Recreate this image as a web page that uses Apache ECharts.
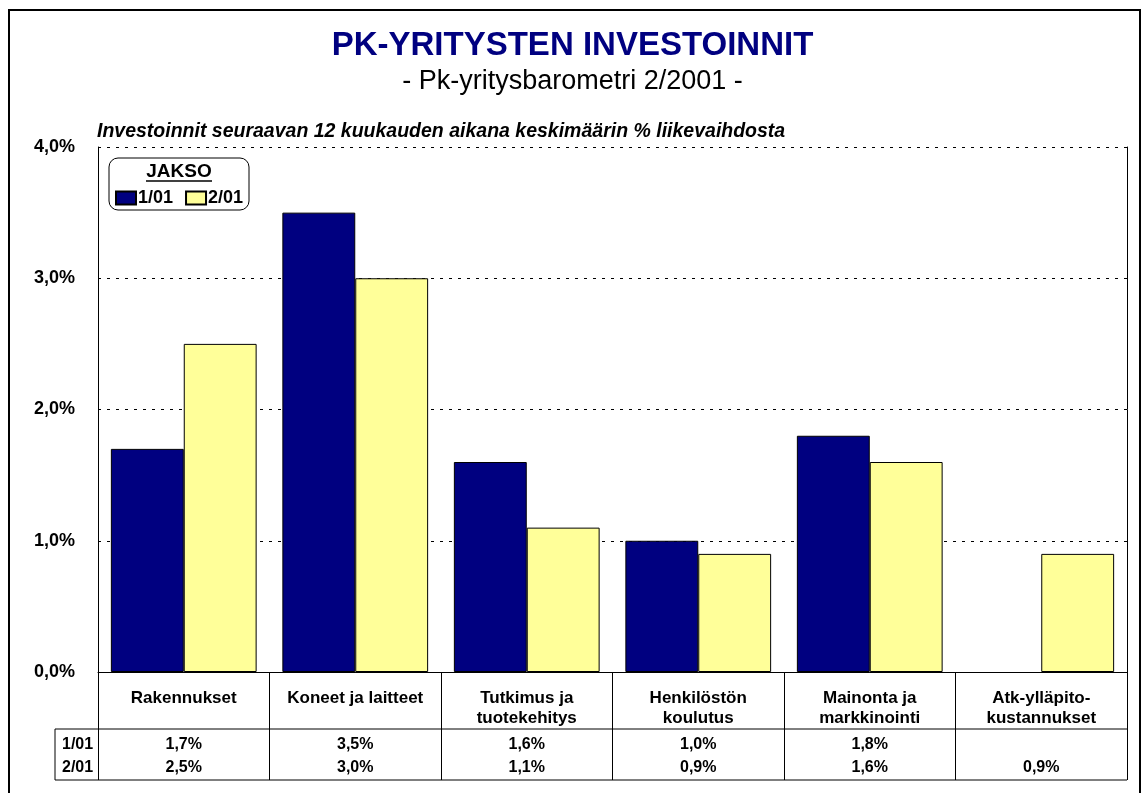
<!DOCTYPE html>
<html>
<head>
  <meta charset="utf-8" />
  <title>PK-yritysten investoinnit</title>
  <style>
    html, body { margin: 0; padding: 0; background: #fff; }
  </style>
  <script src="https://cdn.jsdelivr.net/npm/echarts@6/dist/echarts.min.js"></script>
</head>
<body>
  <div id="main" style="width:1145px;height:793px;"></div>
  <script type="text/javascript">
    // kategoriat ja sarjat
    var categories = ['Rakennukset', 'Koneet ja laitteet', 'Tutkimus ja\ntuotekehitys',
      'Henkilöstön\nkoulutus', 'Mainonta ja\nmarkkinointi', 'Atk-ylläpito-\nkustannukset'];
    var seriesNames = ['1/01', '2/01'];
    var jakso1 = [1.7, 3.5, 1.6, 1.0, 1.8, null];
    var jakso2 = [2.5, 3.0, 1.1, 0.9, 1.6, 0.9];

    var font = '"Liberation Sans", Arial, sans-serif';
    var gLeft = 98, gRight = 1127, gTop = 147, gBottom = 672;

    function pct(v) {
      if (v === null || v === undefined) return '';
      return v.toFixed(1).replace('.', ',') + '%';
    }

    var myChart = echarts.init(document.getElementById('main'));

    // taulukon arvorivit akseleina
    var valueAxis = function (values, offset) {
      return {
        type: 'category',
        data: categories,
        position: 'bottom',
        offset: offset,
        gridIndex: 0,
        axisLine: { show: false },
        axisTick: { show: false },
        axisLabel: {
          margin: 0,
          interval: 0,
          fontFamily: font, fontWeight: 'bold', fontSize: 16, color: '#000',
          lineHeight: 18,
          formatter: function (val, idx) { return pct(values[idx]); }
        }
      };
    };

    var option = {
      animation: false,
      backgroundColor: '#fff',
      title: [{
        text: 'PK-YRITYSTEN INVESTOINNIT',
        left: 'center', top: 24,
        textStyle: { fontFamily: font, fontWeight: 'bold', fontSize: 33, color: '#000080' }
      }, {
        text: '- Pk-yritysbarometri 2/2001 -',
        left: 'center', top: 63,
        textStyle: { fontFamily: font, fontWeight: 'normal', fontSize: 27, color: '#000' }
      }, {
        text: 'Investoinnit seuraavan 12 kuukauden aikana keskimäärin % liikevaihdosta',
        left: 92, top: 117,
        textStyle: { fontFamily: font, fontWeight: 'bold', fontStyle: 'italic', fontSize: 19.5, color: '#000' }
      }],
      legend: {
        data: seriesNames,
        left: 115, top: 189, padding: 0,
        itemWidth: 20, itemHeight: 13, itemGap: 12,
        icon: 'rect',
        textStyle: { fontFamily: font, fontWeight: 'bold', fontSize: 18, color: '#000', padding: [0, 0, 0, -3] }
      },
      grid: { left: gLeft, right: 1145 - gRight, top: gTop, bottom: 793 - gBottom, containLabel: false },
      xAxis: [{
        type: 'category',
        data: categories,
        position: 'bottom',
        axisLine: { show: true, lineStyle: { color: '#000', width: 1 } },
        axisTick: { show: true, length: 108, inside: false, lineStyle: { color: '#000', width: 1 } },
        axisLabel: {
          margin: 16, interval: 0,
          fontFamily: font, fontWeight: 'bold', fontSize: 17, color: '#000', lineHeight: 20,
          verticalAlign: 'top'
        }
      }, valueAxis(jakso1, 64), valueAxis(jakso2, 87)],
      yAxis: [{
        type: 'value',
        min: 0, max: 4, interval: 1,
        axisLine: { show: true, lineStyle: { color: '#000', width: 1 } },
        axisTick: { show: false },
        axisLabel: {
          margin: 23,
          fontFamily: font, fontWeight: 'bold', fontSize: 18, color: '#000',
          formatter: function (v) { return pct(v); }
        },
        splitLine: { show: true, lineStyle: { color: '#000', type: [3, 6], width: 1 } }
      }, {
        type: 'value',
        min: 0, max: 4, interval: 1,
        position: 'right',
        axisLine: { show: true, onZero: false, lineStyle: { color: '#000', width: 1 } },
        axisTick: { show: false },
        axisLabel: { show: false },
        splitLine: { show: false }
      }],
      series: [{
        name: seriesNames[0],
        type: 'bar',
        data: jakso1,
        barGap: '0%',
        barCategoryGap: '15%',
        itemStyle: { color: '#000080', borderColor: '#000', borderWidth: 1 }
      }, {
        name: seriesNames[1],
        type: 'bar',
        data: jakso2,
        barGap: '0%',
        barCategoryGap: '15%',
        itemStyle: { color: '#FFFF99', borderColor: '#000', borderWidth: 1 }
      }],
      graphic: [
        // ulkoreunus
        { type: 'rect', shape: { x: 9, y: 10, width: 1131, height: 800 },
          style: { fill: null, stroke: '#000', lineWidth: 2 }, silent: true },
        // legendan kehys
        { type: 'rect', shape: { x: 109, y: 158, width: 140, height: 52, r: 9 },
          style: { fill: '#fff', stroke: '#000', lineWidth: 1 }, z: -1, silent: true },
        { type: 'text', x: 179, y: 162,
          style: { text: 'JAKSO', font: 'bold 19px "Liberation Sans", Arial', fill: '#000', align: 'center' } },
        { type: 'line', shape: { x1: 146, y1: 181, x2: 212, y2: 181 },
          style: { stroke: '#000', lineWidth: 1.5 } },
        // taulukon viivat
        { type: 'line', shape: { x1: 55, y1: 729, x2: gRight, y2: 729 }, style: { stroke: '#000', lineWidth: 1 } },
        { type: 'line', shape: { x1: 55, y1: 780, x2: gRight, y2: 780 }, style: { stroke: '#000', lineWidth: 1 } },
        { type: 'line', shape: { x1: 55, y1: 729, x2: 55, y2: 780 }, style: { stroke: '#000', lineWidth: 1 } },
        { type: 'text', left: 62, top: 737,
          style: { text: seriesNames[0], font: 'bold 16px "Liberation Sans", Arial', fill: '#000' } },
        { type: 'text', left: 62, top: 760,
          style: { text: seriesNames[1], font: 'bold 16px "Liberation Sans", Arial', fill: '#000' } }
      ]
    };
    myChart.setOption(option);
  </script>
</body>
</html>
